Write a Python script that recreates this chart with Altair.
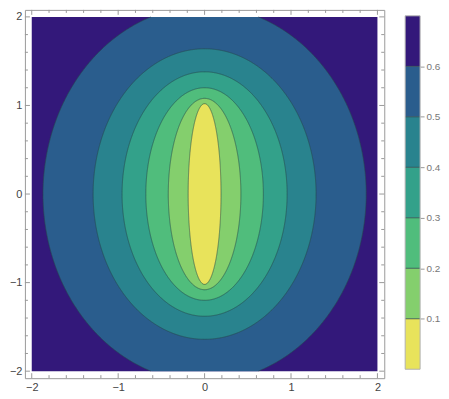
import numpy as np
import pandas as pd
import altair as alt

# ---- values ----
levels = [0.1, 0.2, 0.3, 0.4, 0.5, 0.6]
# contour ellipses: half-width along x (at y=0) and half-height along y (at x=0)
semi_x = [0.19, 0.42, 0.68, 0.955, 1.29, 1.87]
semi_y = [1.02, 1.08, 1.20, 1.38, 1.64, 2.12]
band_colors = ["#e8e35b", "#84cf6d", "#50bd7c", "#33a18a", "#29838e", "#2a5d8d", "#33187a"]
legend_edges = [0.0, 0.1, 0.2, 0.3, 0.4, 0.5, 0.6, 0.7]
axis_labels = [-2, -1, 0, 1, 2]
tick_values = [-2.0, -1.8, -1.6, -1.4, -1.2, -1.0, -0.8, -0.6, -0.4, -0.2, 0.0,
               0.2, 0.4, 0.6, 0.8, 1.0, 1.2, 1.4, 1.6, 1.8, 2.0]
plot_lo, plot_hi = -2.0, 2.0

FRAME = 2.079
FONT = "Liberation Sans"
W, H = 361, 370

xscale = alt.Scale(domain=[-FRAME, FRAME], nice=False, zero=False)
yscale = alt.Scale(domain=[-FRAME, FRAME], nice=False, zero=False)

lab_axis = alt.Axis(values=axis_labels, format="d", ticks=False, tickSize=0, domain=False,
                    grid=False, labelFont=FONT, labelFontSize=11, labelColor="#444444",
                    labelPadding=3, labelFlush=False, title=None)

def X(field):
    return alt.X(field, scale=xscale, axis=lab_axis)

def Y(field, **kw):
    return alt.Y(field, scale=yscale, axis=lab_axis, **kw)

# background (outermost band)
bg_df = pd.DataFrame({"x": [plot_lo], "x2": [plot_hi], "y": [plot_lo], "y2": [plot_hi]})
bg = alt.Chart(bg_df).mark_rect(color=band_colors[6]).encode(
    x=X("x:Q"), x2="x2:Q", y=Y("y:Q"), y2="y2:Q",
)

layers = [bg]
t = np.linspace(-np.pi / 2, np.pi / 2, 481)
for k in reversed(range(len(levels))):
    a, b = semi_x[k], semi_y[k]
    xs = a * np.sin(t)
    yh = np.minimum(b * np.cos(t), plot_hi)
    df = pd.DataFrame({"x": xs, "y": yh, "y2": -yh})
    layers.append(
        alt.Chart(df).mark_area(color=band_colors[k], interpolate="linear").encode(
            x=X("x:Q"), y=Y("y:Q", stack=None), y2="y2:Q",
        )
    )

# contour lines
s = np.linspace(0, np.pi, 901)
rows = []
for k in range(len(levels)):
    a, b = semi_x[k], semi_y[k]
    for side in (1, -1):
        xs = side * a * np.sin(s)
        ys = b * np.cos(s)
        for i, (xv, yv) in enumerate(zip(xs, ys)):
            if abs(yv) <= plot_hi and abs(xv) <= plot_hi:
                rows.append({"x": xv, "y": yv, "id": f"{k}_{side}", "i": i})
lines_df = pd.DataFrame(rows)
lines = alt.Chart(lines_df).mark_line(color="#26474a", strokeWidth=0.8, opacity=0.75).encode(
    x=X("x:Q"), y=Y("y:Q"), detail="id:N", order="i:Q",
)
layers.append(lines)

# inward frame ticks on all four sides
tk = []
for v in tick_values:
    major = abs(v - round(v)) < 1e-9
    lx = 0.058 if major else 0.035
    ly = 0.056 if major else 0.034
    tk.append({"x": v, "x2": v, "y": -FRAME, "y2": -FRAME + ly})
    tk.append({"x": v, "x2": v, "y": FRAME, "y2": FRAME - ly})
    tk.append({"x": -FRAME, "x2": -FRAME + lx, "y": v, "y2": v})
    tk.append({"x": FRAME, "x2": FRAME - lx, "y": v, "y2": v})
ticks = alt.Chart(pd.DataFrame(tk)).mark_rule(color="#999999", strokeWidth=1).encode(
    x=X("x:Q"), x2="x2:Q", y=Y("y:Q"), y2="y2:Q",
)
layers.append(ticks)

main = alt.layer(*layers).properties(width=W, height=H)

# ---- legend bar ----
lscale = alt.Scale(domain=[-0.0177, 0.7118], nice=False, zero=False)
leg_axis = alt.Axis(orient="right", values=levels, format=".1f", tickSize=4,
                    tickColor="#999999", domain=False, grid=False, labelFont=FONT,
                    labelFontSize=10, labelColor="#777777", labelPadding=2,
                    labelFlush=False, title=None)
leg_df = pd.DataFrame({"lo": legend_edges[:-1], "hi": legend_edges[1:], "c": band_colors})
leg_rect = alt.Chart(leg_df).mark_rect().encode(
    y=alt.Y("lo:Q", scale=lscale, axis=leg_axis),
    y2="hi:Q",
    x=alt.value(0),
    x2=alt.value(15),
    color=alt.Color("c:N", scale=None),
)
leg_lines = alt.Chart(pd.DataFrame({"lo": levels})).mark_rule(
    color="#2e4a4a", strokeWidth=1, opacity=0.8
).encode(y=alt.Y("lo:Q", scale=lscale, axis=leg_axis), x=alt.value(0), x2=alt.value(15))
leg_border = alt.Chart(pd.DataFrame({"lo": [legend_edges[0]], "hi": [legend_edges[-1]]})).mark_rect(
    fillOpacity=0, stroke="#b0b0b0", strokeWidth=1
).encode(y=alt.Y("lo:Q", scale=lscale, axis=leg_axis), y2="hi:Q", x=alt.value(0), x2=alt.value(15))

legend = alt.layer(leg_rect, leg_lines, leg_border).properties(
    width=15, height=H, view=alt.ViewBackground(stroke="transparent")
)

chart = alt.hconcat(main, legend, spacing=19).properties(padding=0).configure_view(
    stroke="#999999", strokeWidth=1
)

chart.save("out.html", embed_options={"renderer": "svg", "actions": False})
